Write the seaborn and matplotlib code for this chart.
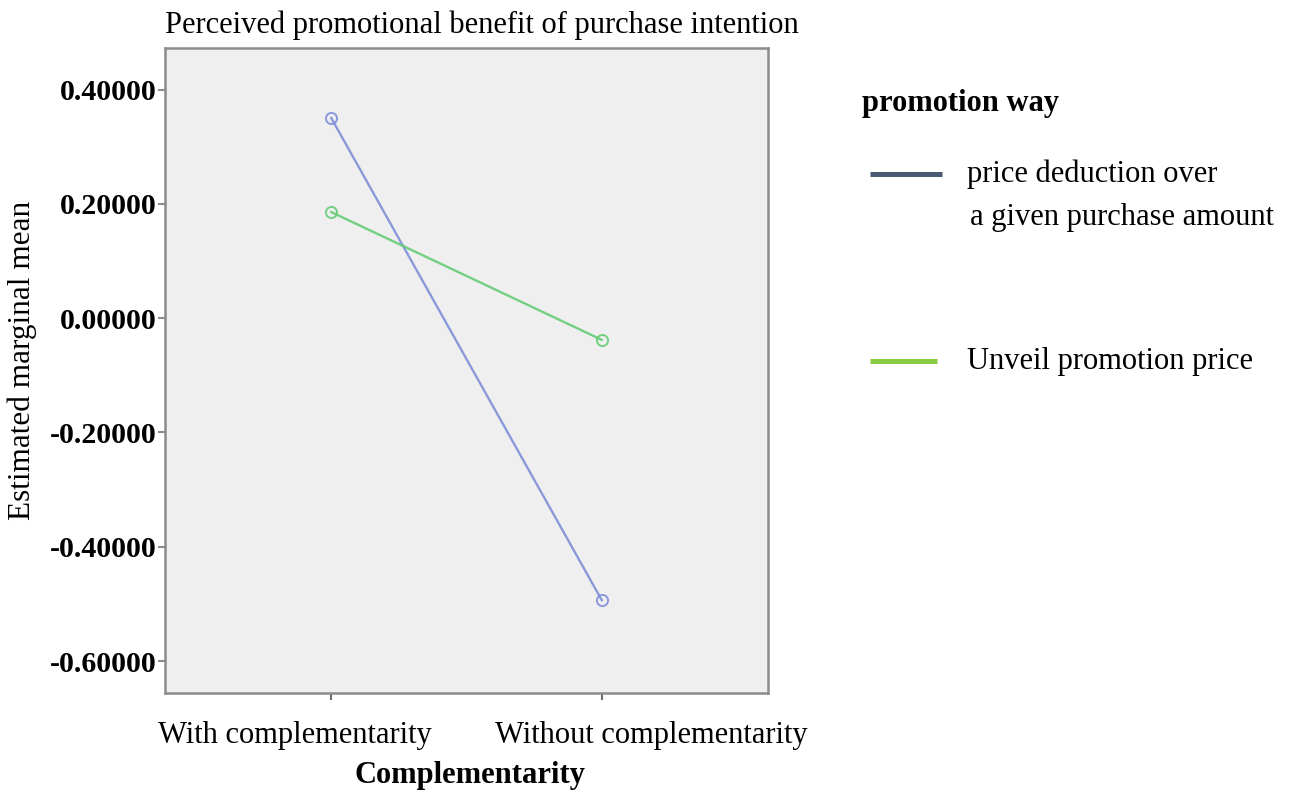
import numpy as np
import pandas as pd
import seaborn as sns
import matplotlib.pyplot as plt
from matplotlib.lines import Line2D
from matplotlib.ticker import FormatStrFormatter
from matplotlib.transforms import ScaledTranslation

# ===== data =====
complementarity = ["With complementarity", "Without complementarity"]
promotion_ways = ["price deduction over\n a given purchase amount", "Unveil promotion price"]
deduction_means = [0.351, -0.494]
unveil_means = [0.186, -0.038]
y_ticks = [-0.6, -0.4, -0.2, 0.0, 0.2, 0.4]

df = pd.DataFrame({
    "Complementarity": complementarity * 2,
    "mean": deduction_means + unveil_means,
    "way": [promotion_ways[0]] * 2 + [promotion_ways[1]] * 2,
})

sns.set_theme(style="white")
plt.rcParams['font.family'] = ['Liberation Serif', 'DejaVu Serif']
plt.rcParams['text.color'] = 'black'

line_colors = {promotion_ways[0]: "#8090d8", promotion_ways[1]: "#66cc76"}
legend_colors = ["#4a5a75", "#88cc44"]

fig = plt.figure(figsize=(12.91, 7.95), dpi=100)
ax = fig.add_axes([165 / 1291, 1 - 693 / 795, 603 / 1291, 645 / 795])
ax.set_facecolor("#efefef")

sns.lineplot(data=df, x="Complementarity", y="mean", hue="way", palette=line_colors,
             marker="o", markersize=8, markerfacecolor="none", markeredgewidth=1.4,
             linewidth=1.7, legend=False, ax=ax)
# open circle markers in the line colour
for ln in ax.lines:
    ln.set_markeredgecolor(ln.get_color())
    ln.set_alpha(0.9)

ax.set_xlim(-0.613, 1.613)
ax.set_ylim(-0.656, 0.473)
ax.set_yticks(y_ticks)
ax.yaxis.set_major_formatter(FormatStrFormatter("%.5f"))
ax.set_xlabel("")
ax.set_ylabel("")

for sp in ax.spines.values():
    sp.set_color("#8c8c8c")
    sp.set_linewidth(1.8)

ax.tick_params(axis="y", which="both", left=True, length=5, width=1.5, color="#8c8c8c",
               pad=1, labelsize=21.5, labelcolor="black")
ax.tick_params(axis="x", which="both", bottom=True, length=5, width=1.5, color="#6c6c6c",
               pad=15, labelsize=22, labelcolor="black")
for lab in ax.get_yticklabels():
    lab.set_fontweight("bold")

# x tick labels sit spread apart from their ticks in the original
shifts = [-36, 49]
for lab, dx in zip(ax.get_xticklabels(), shifts):
    lab.set_transform(lab.get_transform() + ScaledTranslation(dx / 100, 0, fig.dpi_scale_trans))

# titles / axis labels
fig.text(482 / 1291, 1 - 25 / 795, "Perceived promotional benefit of purchase intention",
         ha="center", va="center", fontsize=22)
fig.text(22 / 1291, 1 - 360 / 795, "Estimated marginal mean", rotation=90,
         ha="center", va="center", fontsize=22.5)
fig.text(470 / 1291, 1 - 775 / 795, "Complementarity", ha="center", va="center",
         fontsize=22, fontweight="bold")

# legend drawn by hand
fig.text(862 / 1291, 1 - 103 / 795, "promotion way", ha="left", va="center",
         fontsize=22, fontweight="bold")
fig.add_artist(Line2D([870 / 1291, 942 / 1291], [1 - 174 / 795] * 2, color=legend_colors[0],
                      linewidth=3.6, solid_capstyle="butt", transform=fig.transFigure))
fig.text(967 / 1291, 1 - 174 / 795, "price deduction over", ha="left", va="center", fontsize=22)
fig.text(970 / 1291, 1 - 217 / 795, "a given purchase amount", ha="left", va="center", fontsize=22)
fig.add_artist(Line2D([870 / 1291, 937 / 1291], [1 - 361 / 795] * 2, color=legend_colors[1],
                      linewidth=3.6, solid_capstyle="butt", transform=fig.transFigure))
fig.text(967 / 1291, 1 - 362 / 795, promotion_ways[1], ha="left", va="center", fontsize=22)

fig.savefig("out.png", dpi=100)
